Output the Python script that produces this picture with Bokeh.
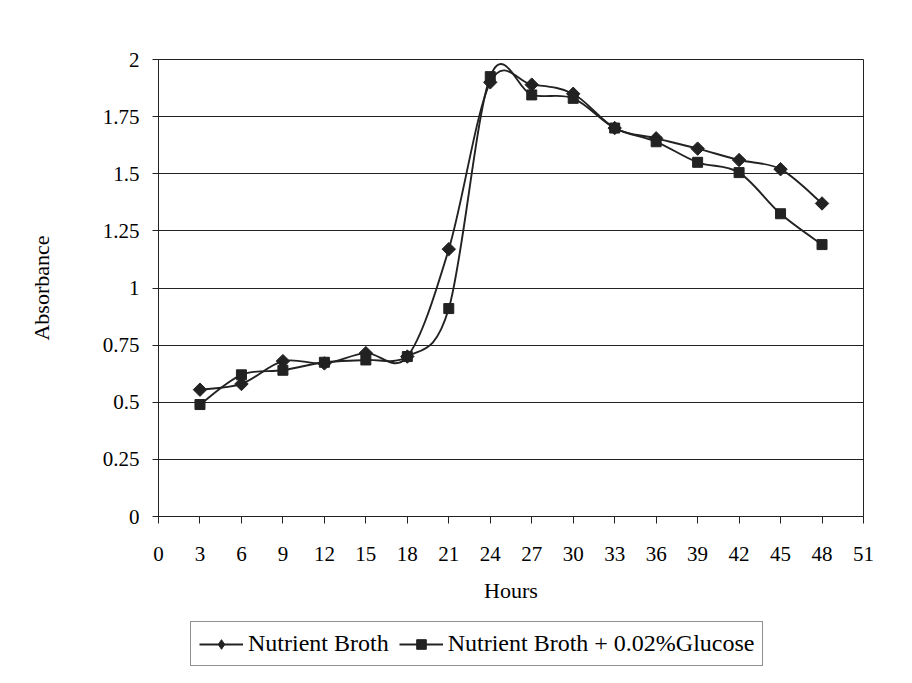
import numpy as np
from bokeh.plotting import figure
from bokeh.layouts import column
from bokeh.models import Legend, LegendItem, FixedTicker, Range1d
from bokeh.embed import file_html
from bokeh.resources import INLINE

hours = [3, 6, 9, 12, 15, 18, 21, 24, 27, 30, 33, 36, 39, 42, 45, 48]
nutrient_broth = [0.555, 0.58, 0.68, 0.67, 0.715, 0.70, 1.17, 1.90, 1.89, 1.85, 1.70, 1.655, 1.61, 1.56, 1.52, 1.37]
nb_glucose = [0.49, 0.62, 0.64, 0.675, 0.685, 0.70, 0.91, 1.925, 1.845, 1.83, 1.70, 1.64, 1.55, 1.505, 1.325, 1.19]

x_ticks = list(range(0, 52, 3))
y_ticks = [0, 0.25, 0.5, 0.75, 1, 1.25, 1.5, 1.75, 2]
y_tick_labels = ["0", "0.25", "0.5", "0.75", "1", "1.25", "1.5", "1.75", "2"]
series_names = ["Nutrient Broth", "Nutrient Broth + 0.02%Glucose"]

FONT = "Liberation Serif"
INK = "#222222"

p = figure(width=896, height=610, output_backend="svg", toolbar_location=None,
           x_range=Range1d(0, 51), y_range=Range1d(0, 2),
           min_border_left=158, min_border_right=33, min_border_top=59, min_border_bottom=94)
p.background_fill_color = "white"
p.border_fill_color = "white"
p.outline_line_color = INK
p.outline_line_width = 1

p.xgrid.visible = False
p.ygrid.grid_line_color = INK
p.ygrid.grid_line_width = 1
p.ygrid.ticker = FixedTicker(ticks=y_ticks)

p.xaxis.ticker = FixedTicker(ticks=x_ticks)
p.yaxis.ticker = FixedTicker(ticks=y_ticks)
p.yaxis.major_label_overrides = {t: l for t, l in zip(y_ticks, y_tick_labels)}

for ax in (p.xaxis[0], p.yaxis[0]):
    ax.axis_line_color = INK
    ax.major_tick_line_color = INK
    ax.minor_tick_line_color = None
    ax.major_label_text_font = FONT
    ax.major_label_text_font_size = "21px"
    ax.major_label_text_color = "black"
    ax.axis_label_text_font = FONT
    ax.axis_label_text_font_size = "22px"
    ax.axis_label_text_font_style = "normal"
    ax.axis_label_text_color = "black"

p.xaxis.major_tick_in = 0
p.xaxis.major_tick_out = 7
p.yaxis.major_tick_in = 5
p.yaxis.major_tick_out = 6

p.xaxis.axis_label = "Hours"
p.xaxis.major_label_standoff = 23
p.xaxis.axis_label_standoff = 14
p.yaxis.axis_label = "Absorbance"
p.yaxis.major_label_standoff = 13
p.yaxis.axis_label_standoff = 46


def smooth_segments(xs, ys):
    n = len(xs)
    x0, y0, x1, y1, cx0, cy0, cx1, cy1 = [], [], [], [], [], [], [], []
    for i in range(n - 1):
        ip = max(i - 1, 0)
        inx = min(i + 2, n - 1)
        x0.append(xs[i]); y0.append(ys[i])
        x1.append(xs[i + 1]); y1.append(ys[i + 1])
        cx0.append(xs[i] + (xs[i + 1] - xs[ip]) / 6.0)
        cy0.append(ys[i] + (ys[i + 1] - ys[ip]) / 6.0)
        cx1.append(xs[i + 1] - (xs[inx] - xs[i]) / 6.0)
        cy1.append(ys[i + 1] - (ys[inx] - ys[i]) / 6.0)
    return dict(x0=x0, y0=y0, x1=x1, y1=y1, cx0=cx0, cy0=cy0, cx1=cx1, cy1=cy1)


p.bezier(line_color=INK, line_width=1.9, **smooth_segments(hours, nutrient_broth))
p.bezier(line_color=INK, line_width=1.9, **smooth_segments(hours, nb_glucose))
p.scatter(hours, nutrient_broth, marker="square", angle=np.pi / 4, size=9.5, fill_color=INK, line_color=INK)
p.scatter(hours, nb_glucose, marker="square", size=10, fill_color=INK, line_color=INK)

# legend strip below the chart (its frame is aligned with the chart's frame)
lp = figure(width=896, height=57, output_backend="svg", toolbar_location=None,
            x_axis_type=None, y_axis_type=None, x_range=Range1d(1000, 1001), y_range=Range1d(1000, 1001),
            min_border=0, min_border_left=0, min_border_right=0, min_border_top=0, min_border_bottom=0)
lp.outline_line_color = None
lp.grid.visible = False
lp.background_fill_color = "white"
lp.border_fill_color = "white"
l1 = lp.line(hours, nutrient_broth, line_color=INK, line_width=1.9)
d1 = lp.scatter(hours, nutrient_broth, marker="diamond", size=14, fill_color=INK, line_color=INK)
l2 = lp.line(hours, nb_glucose, line_color=INK, line_width=1.9)
d2 = lp.scatter(hours, nb_glucose, marker="square", size=9, fill_color=INK, line_color=INK)

legend = Legend(items=[LegendItem(label=series_names[0], renderers=[l1, d1]),
                       LegendItem(label=series_names[1], renderers=[l2, d2])],
                orientation="horizontal", location=(32, 1))
legend.label_text_font = FONT
legend.label_text_font_size = "24px"
legend.label_text_color = "black"
legend.label_height = 24
legend.glyph_height = 24
legend.border_line_color = INK
legend.border_line_width = 1
legend.glyph_width = 44
legend.label_standoff = 5
legend.spacing = 10
legend.padding = 8
legend.margin = 0
lp.add_layout(legend, "center")

open("out.html", "w").write(file_html(column(p, lp, spacing=0), INLINE))
